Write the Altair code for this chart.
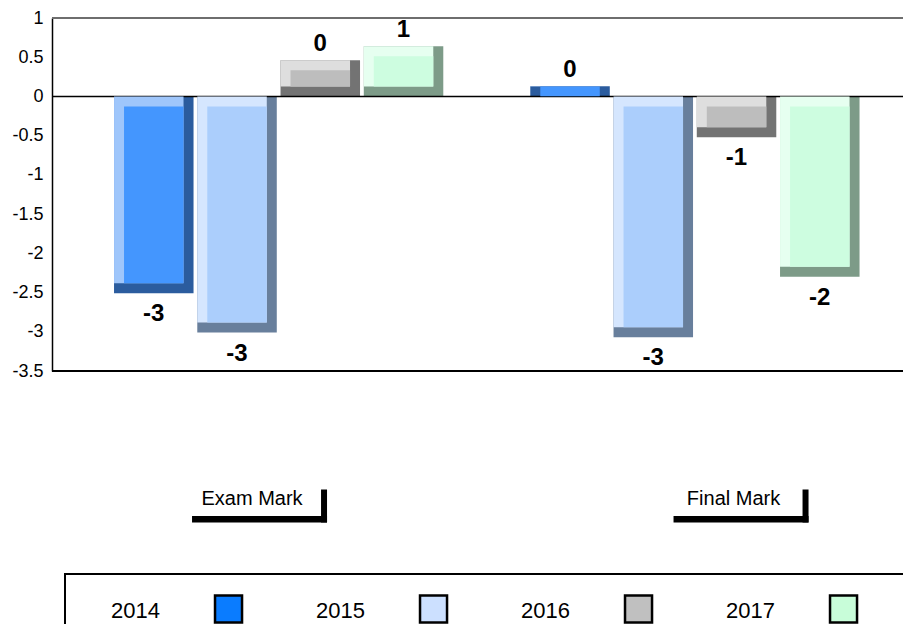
import altair as alt
import pandas as pd

# ---------------- data ----------------
categories = ["Exam Mark", "Final Mark"]
years = ["2014", "2015", "2016", "2017"]
exam_mark = [-2.51, -3.01, 0.46, 0.64]
final_mark = [0.13, -3.07, -0.52, -2.30]
y_ticks = [1, 0.5, 0, -0.5, -1, -1.5, -2, -2.5, -3, -3.5]

# ---------------- styles ----------------
face_colors = ["#4496fe", "#abcefc", "#bdbdbd", "#cdfde0"]
light_colors = ["#9fc6fb", "#d5e6fe", "#dedede", "#e6fff0"]
dark_colors = ["#2b5c9e", "#687f9c", "#737373", "#7d9b88"]
legend_colors = ["#0a7cff", "#cce0ff", "#c0c0c0", "#c8fdd9"]
FONT = "Liberation Sans"
BEVEL = 10
BAR_W = 79.5

series = {"Exam Mark": exam_mark, "Final Mark": final_mark}
rows = []
for cat in categories:
    for yr, v in zip(years, series[cat]):
        rows.append({"category": cat, "year": yr, "slot": f"{cat} {yr}", "value": v})
df = pd.DataFrame(rows)

# band slots: one per bar, with an empty slot between the two groups
slot_domain = []
for i, cat in enumerate(categories):
    if i > 0:
        slot_domain.append(" ")
    slot_domain += [f"{cat} {yr}" for yr in years]

x_scale = alt.Scale(type="band", domain=slot_domain, paddingInner=0.045,
                    paddingOuter=0.6336, align=0.588)
x_enc = alt.X("slot:N", scale=x_scale, axis=None)
y_scale = alt.Scale(domain=[-3.5, 1], nice=False, zero=False)

base = alt.Chart(df).transform_calculate(
    top="max(datum.value, 0)",
    bot="min(datum.value, 0)",
    label="(datum.value < 0 ? '-' : '') + toString(round(abs(datum.value)))",
)

one = pd.DataFrame({"k": [0]})


def ypos(value_or_field):
    if isinstance(value_or_field, str):
        return alt.Y(value_or_field, axis=None)
    return alt.Y(datum=value_or_field, type="quantitative", axis=None)


zero_rule = alt.Chart(one).mark_rule(color="black", strokeWidth=1.5).encode(y=ypos(0))
top_rule = alt.Chart(one).mark_rule(color="#6e6e6e", strokeWidth=2).encode(y=ypos(1))
bottom_rule = alt.Chart(one).mark_rule(color="black", strokeWidth=2).encode(y=ypos(-3.5))

y_axis = alt.Axis(values=y_ticks, format="~g", ticks=False, grid=False, domainColor="black",
                  domainWidth=1.5, labelFont=FONT, labelFontSize=18, labelColor="black",
                  labelPadding=9, labelFlush=False, labelOverlap=False, title=None,
                  labelExpr="replace(datum.label, '\u2212', '-')")

dark = base.mark_bar().encode(
    x=x_enc,
    y=alt.Y("top:Q", scale=y_scale, axis=y_axis),
    y2="bot:Q",
    color=alt.Color("year:N", scale=alt.Scale(domain=years, range=dark_colors), legend=None),
)
light = base.mark_bar(width=BAR_W - BEVEL, xOffset=-BEVEL / 2, y2Offset=-BEVEL).encode(
    x=x_enc, y=ypos("top:Q"), y2="bot:Q",
    color=alt.Color("year:N", scale=alt.Scale(domain=years, range=light_colors), legend=None),
)
face = base.mark_bar(width=BAR_W - 2 * BEVEL, yOffset=BEVEL, y2Offset=-BEVEL).encode(
    x=x_enc, y=ypos("top:Q"), y2="bot:Q",
    color=alt.Color("year:N", scale=alt.Scale(domain=years, range=face_colors), legend=None),
)

lbl_neg = base.transform_filter("datum.value < 0").mark_text(
    font=FONT, fontSize=24, fontWeight="bold", baseline="top", dy=9, color="black"
).encode(x=x_enc, y=ypos("bot:Q"), text="label:N")
lbl_pos = base.transform_filter("datum.value >= 0").mark_text(
    font=FONT, fontSize=24, fontWeight="bold", baseline="alphabetic", dy=-9, color="black"
).encode(x=x_enc, y=ypos("top:Q"), text="label:N")

# category labels with their bracket, anchored on a bar slot of the group
label_anchor = {"Exam Mark": ("2015", 15), "Final Mark": ("2016", -3)}
cat_layers = []
for cat in categories:
    yr, nudge = label_anchor[cat]
    cdf = pd.DataFrame({"category": [cat], "slot": [f"{cat} {yr}"]})
    c = alt.Chart(cdf)
    cat_layers.append(c.mark_text(font=FONT, fontSize=20, baseline="alphabetic", dx=nudge,
                                  color="black").encode(
        x=x_enc, y=alt.value(487), text="category:N"))
    cat_layers.append(c.mark_bar(width=135, xOffset=nudge + 7.5, color="black").encode(
        x=x_enc, y=alt.value(498), y2=alt.value(504.5)))
    cat_layers.append(c.mark_bar(width=6, xOffset=nudge + 72, color="black").encode(
        x=x_enc, y=alt.value(471.5), y2=alt.value(504.5)))

# legend drawn as marks
leg_df = pd.DataFrame({"year": years})
leg_x = alt.X("year:N", scale=alt.Scale(type="point", domain=years, padding=0.5756, align=0.748),
              axis=None)
leg_box = alt.Chart(one).mark_rect(fillOpacity=0, stroke="black", strokeWidth=2).encode(
    x=alt.value(13), x2=alt.value(900), y=alt.value(556), y2=alt.value(700))
leg_sw = alt.Chart(leg_df).mark_square(size=730, stroke="black", strokeWidth=2.5, opacity=1).encode(
    x=leg_x, y=alt.value(591),
    fill=alt.Fill("year:N", scale=alt.Scale(domain=years, range=legend_colors), legend=None))
leg_txt = alt.Chart(leg_df).mark_text(font=FONT, fontSize=22, baseline="alphabetic", dx=-93,
                                      color="black").encode(
    x=leg_x, y=alt.value(600), text="year:N")

chart = alt.layer(
    dark, zero_rule, top_rule, light, face, bottom_rule, lbl_neg, lbl_pos,
    *cat_layers, leg_box, leg_sw, leg_txt
).resolve_scale(
    x="independent", color="independent", fill="independent"
).resolve_axis(
    y="independent"
).properties(
    width=851, height=353,
    autosize=alt.AutoSizeParams(type="none"),
    padding={"left": 44, "top": 10, "right": 0, "bottom": 253},
).configure_view(strokeWidth=0)

chart.save("out.html", embed_options={"renderer": "svg", "actions": False})
